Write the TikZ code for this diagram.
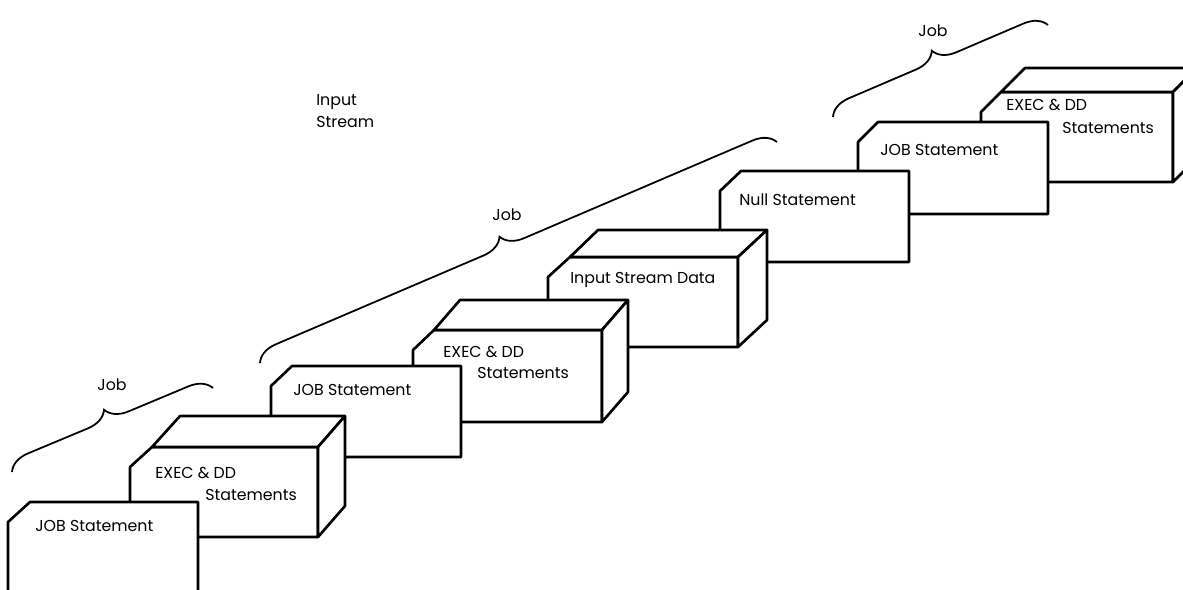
\documentclass[tikz,border=0pt]{standalone}
\usepackage{fontspec}
\setmainfont{Poppins}
\usetikzlibrary{decorations.pathreplacing}

\begin{document}
\begin{tikzpicture}[x=0.2mm,y=-0.2mm,
    card/.style={draw,fill=white,line width=1.5pt,line join=round},
    jobbrace/.style={decorate,decoration={brace,amplitude=4.4mm,aspect=#1},line width=1pt},
    jobbrace/.default=0.5,
    txt/.style={anchor=west,inner sep=0pt,font=\fontsize{9}{10}\selectfont}]
    \useasboundingbox (0,0) rectangle (1183,589);
    % back to front
    \draw [card] (981,182) -- (981,112) -- (1001,92) -- (1173,92) -- (1173,182) -- cycle;
    \draw [card] (1001,92) -- (1025,68) -- (1197,68) -- (1173,92) -- cycle;
    \draw [card] (1173,92) -- (1197,68) -- (1197,158) -- (1173,182) -- cycle;
    \node [txt] (exec3a) at (1006,105) {EXEC \& DD};
    \node [txt] (exec3b) at (1062,128) {Statements};
    \draw [card] (858,214) -- (858,142) -- (878,122) -- (1048,122) -- (1048,214) -- cycle;
    \node [txt] (job3) at (880,150) {JOB Statement};
    \draw [card] (720,262) -- (720,191) -- (741,171) -- (909,171) -- (909,262) -- cycle;
    \node [txt] (null) at (739,200) {Null Statement};
    \draw [card] (548,347) -- (548,277) -- (570,257) -- (738,257) -- (738,347) -- cycle;
    \draw [card] (570,257) -- (598,230) -- (767,230) -- (738,257) -- cycle;
    \draw [card] (738,257) -- (767,230) -- (767,320) -- (738,347) -- cycle;
    \node [txt] (data) at (570,280) {Input Stream Data};
    \draw [card] (413,422) -- (413,350) -- (434,330) -- (602,330) -- (602,422) -- cycle;
    \draw [card] (434,330) -- (460,300) -- (628,300) -- (602,330) -- cycle;
    \draw [card] (602,330) -- (628,300) -- (628,392) -- (602,422) -- cycle;
    \node [txt] (exec2a) at (443,352) {EXEC \& DD};
    \node [txt] (exec2b) at (477,373) {Statements};
    \draw [card] (271,457) -- (271,386) -- (292,366) -- (461,366) -- (461,457) -- cycle;
    \node [txt] (job2) at (293,390) {JOB Statement};
    \draw [card] (130,537) -- (130,467) -- (152,447) -- (318,447) -- (318,537) -- cycle;
    \draw [card] (152,447) -- (180,416) -- (345,416) -- (318,447) -- cycle;
    \draw [card] (318,447) -- (345,416) -- (345,506) -- (318,537) -- cycle;
    \node [txt] (exec1a) at (155,473) {EXEC \& DD};
    \node [txt] (exec1b) at (205,495) {Statements};
    \draw [card] (8,620) -- (8,522) -- (30,502) -- (198,502) -- (198,620);
    \node [txt] (job1) at (35,526) {JOB Statement};
    % braces
    \draw [jobbrace] (12,472) -- (213,388);
    \draw [jobbrace=0.48] (260,363) -- (777,142);
    \draw [jobbrace] (833,117) -- (1048,25);
    \node [txt,anchor=center] (brace1) at (112,385) {Job};
    \node [txt,anchor=center] (brace2) at (507,215) {Job};
    \node [txt,anchor=center] (brace3) at (933,31) {Job};
    \node [txt] (stream) at (316,102) {Input};
    \node [txt] (stream2) at (316,122) {Stream};
\end{tikzpicture}
\end{document}
